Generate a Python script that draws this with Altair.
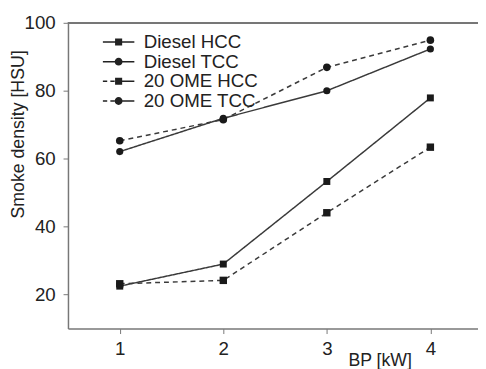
import altair as alt
import pandas as pd

bp = [1, 2, 3, 4]
diesel_hcc = [22.5, 29.0, 53.3, 77.9]
diesel_tcc = [62.1, 71.9, 80.0, 92.3]
ome_hcc = [23.2, 24.2, 44.1, 63.4]
ome_tcc = [65.3, 71.5, 86.9, 94.9]

series_names = ["Diesel HCC", "Diesel TCC", "20 OME HCC", "20 OME TCC"]
series_values = [diesel_hcc, diesel_tcc, ome_hcc, ome_tcc]

rows = []
for name, vals in zip(series_names, series_values):
    for x, y in zip(bp, vals):
        rows.append({"BP": x, "Smoke": y, "series": name})
df = pd.DataFrame(rows)

FONT = "Liberation Sans"
LINE = "#3a3a3a"

# legend symbol paths (line + marker) built only from filled shapes,
# scaled by sqrt(size)/2 = 4 px per unit
sq = "M-0.9,-0.9H0.9V0.9H-0.9Z"
ci = "M1,0A1,1 0 1,1 -1,0A1,1 0 1,1 1,0Z"
h = 0.19
def seg(a, b):
    return f"M{a},{-h}H{b}V{h}H{a}Z"
solid = seg(-4, 4)
dashed = seg(-4, -2.9) + seg(-2.1, -1.0) + seg(0.9, 4)
legend_paths = [solid + sq, solid + ci, dashed + sq, dashed + ci]

xs = alt.Scale(domain=[0.5, 4.46], nice=False, zero=False)
ys = alt.Scale(domain=[10, 100], nice=False, zero=False)

x_enc = alt.X("BP:Q", scale=xs, axis=alt.Axis(
    values=bp, format="d", title="BP [kW]", grid=False, tickSize=5, labelPadding=6,
    titleX=317, titleY=33, titleAlign="center", titleBaseline="middle"))
y_enc = alt.Y("Smoke:Q", scale=ys, axis=alt.Axis(
    values=[20, 40, 60, 80, 100], title="Smoke density [HSU]", grid=False,
    tickSize=5, labelPadding=8,
    titleX=-50, titleY=113, titleAlign="center", titleBaseline="middle"))

lines = alt.Chart(df).mark_line(color=LINE, strokeWidth=1.5).encode(
    x=x_enc, y=y_enc,
    detail="series:N",
    strokeDash=alt.StrokeDash("series:N", scale=alt.Scale(
        domain=series_names, range=[[1, 0], [1, 0], [5, 4], [5, 4]]), legend=None),
)

points = alt.Chart(df).mark_point(filled=True, color="#1a1a1a", opacity=1).encode(
    x="BP:Q", y="Smoke:Q",
    shape=alt.Shape("series:N", scale=alt.Scale(
        domain=series_names, range=["square", "circle", "square", "circle"]), legend=None),
    size=alt.Size("series:N", scale=alt.Scale(
        domain=series_names, range=[50, 60, 50, 60]), legend=None),
)

legend_layer = alt.Chart(df).mark_point(
    filled=True, color="#222222", opacity=0, size=64
).encode(
    x="BP:Q", y="Smoke:Q",
    shape=alt.Shape("series:N", scale=alt.Scale(domain=series_names, range=legend_paths),
                    legend=alt.Legend(
                        title=None, orient="none", legendX=42, legendY=10,
                        padding=0, labelFont=FONT, labelFontSize=19, labelColor="#222",
                        labelOffset=16, rowPadding=-2, symbolSize=64,
                        symbolOpacity=1, symbolFillColor="#222222",
                        symbolStrokeWidth=0)),
)

top_rule = alt.Chart(df).mark_rule(color="#777777", strokeWidth=1.5).encode(
    y=alt.datum(100))

chart = alt.layer(top_rule, lines, points, legend_layer).resolve_scale(
    shape="independent", size="independent"
).properties(
    width=417, height=311,
    autosize=alt.AutoSizeParams(type="none"),
    padding={"left": 61, "top": 12, "right": 0, "bottom": 38},
).configure_view(stroke=None).configure_axis(
    domainColor="#777777", domainWidth=1.5, tickColor="#777777", tickWidth=1,
    labelFont=FONT, labelFontSize=19, labelColor="#222",
    titleFont=FONT, titleFontSize=18, titleColor="#222", titleFontWeight="normal",
)

chart.save("out.html", embed_options={"renderer": "svg", "actions": False})
